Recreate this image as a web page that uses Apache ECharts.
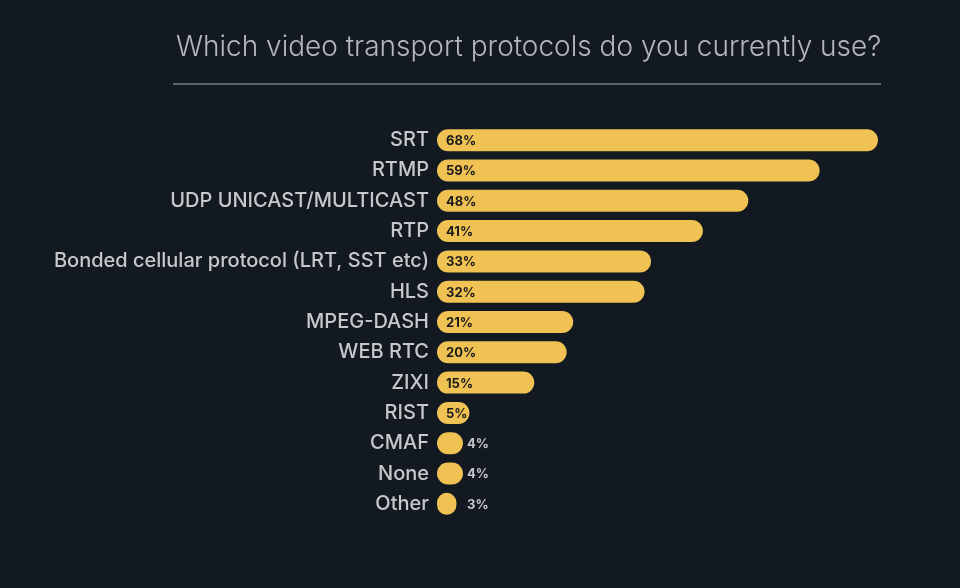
<!DOCTYPE html>
<html><head><meta charset="utf-8">
<script src="https://cdn.jsdelivr.net/npm/echarts@6/dist/echarts.min.js"></script>
<style>html,body{margin:0;padding:0;background:#121921;}#c{width:960px;height:588px;}</style>
</head><body><div id="c"></div>
<script>
const titleText = 'Which video transport protocols do you currently use?';
const categories = ['SRT','RTMP','UDP UNICAST/MULTICAST','RTP','Bonded cellular protocol (LRT, SST etc)','HLS','MPEG-DASH','WEB RTC','ZIXI','RIST','CMAF','None','Other'];
const values = [68,59,48,41,33,32,21,20,15,5,4,4,3];
const insideThreshold = 5;

const chart = echarts.init(document.getElementById('c'));
const data = values.map(v => ({
  value: v,
  label: v >= insideThreshold
    ? {position: 'insideLeft', distance: 9, offset: [0, 1], color: '#1a1a1a', fontWeight: 'bold', fontSize: 13}
    : {position: 'insideLeft', distance: 30, offset: [0, 1], color: '#c4c6c8', fontWeight: 'bold', fontSize: 13}
}));
chart.setOption({
  backgroundColor: '#121921',
  title: {text: titleText, left: 171, top: 29, textStyle: {color: '#b4b7ba', fontSize: 28, fontWeight: 300, fontFamily: 'Inter'}},
  graphic: [{type: 'line', shape: {x1: 173, y1: 84, x2: 881, y2: 84}, style: {stroke: '#7a7e82', lineWidth: 1.5}}],
  grid: {left: 437, right: 82, top: 125, bottom: 69, containLabel: false},
  xAxis: {type: 'value', min: 0, max: 68, show: false},
  yAxis: {type: 'category', data: categories, inverse: true,
    axisLine: {show: false}, axisTick: {show: false},
    axisLabel: {color: '#c6c8ca', fontSize: 20, fontWeight: 500, fontFamily: 'Inter', margin: 8}},
  series: [{type: 'bar', data: data, barWidth: 22,
    itemStyle: {color: '#efc253', borderRadius: 11},
    label: {show: true, formatter: '{c}%', fontFamily: 'Inter'}}]
});
</script></body></html>
